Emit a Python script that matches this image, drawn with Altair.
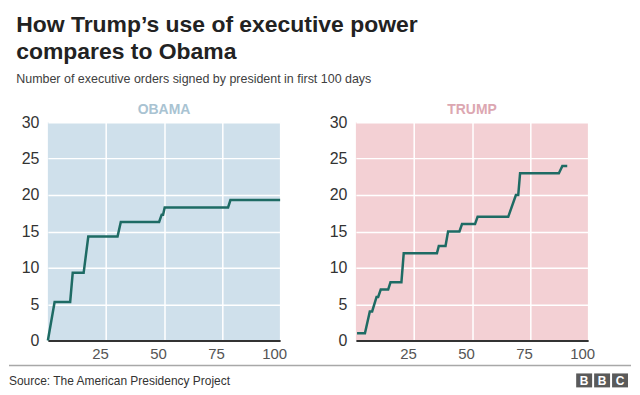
import altair as alt
import pandas as pd

# Data (day in first 100 days, cumulative orders)
obama_day = [0, 2.9, 9.6, 10.7, 15.4, 17.4, 30.0, 31.4, 47.9, 49.0, 49.6, 50.3, 77.6, 78.6, 100]
obama_count = [0, 5.3, 5.3, 9.3, 9.3, 14.3, 14.3, 16.3, 16.3, 17.3, 17.3, 18.3, 18.3, 19.3, 19.3]

trump_day = [0.5, 3.9, 6.0, 7.0, 8.9, 9.6, 10.7, 13.9, 14.9, 19.6, 20.6, 34.9, 35.7, 38.6,
             39.7, 44.6, 45.7, 51.3, 52.4, 65.6, 68.9, 69.9, 70.7, 87.4, 88.9, 91.0]
trump_count = [1, 1, 4, 4, 6, 6, 7, 7, 8, 8, 12, 12, 13, 13, 15, 15, 16, 16, 17, 17,
               20, 20, 23, 23, 24, 24]

x_ticks = [25, 50, 75, 100]
y_ticks = [0, 5, 10, 15, 20, 25, 30]

title_lines = ["How Trump\u2019s use of executive power", "compares to Obama"]
subtitle = "Number of executive orders signed by president in first 100 days"
source = "Source: The American Presidency Project"
logo_letters = ["B", "B", "C"]

FONT = "Liberation Sans"
LINE = "#1e6b64"
W, H = 233, 219

obama_df = pd.DataFrame({"day": obama_day, "count": obama_count, "i": range(len(obama_day))})
trump_df = pd.DataFrame({"day": trump_day, "count": trump_count, "i": range(len(trump_day))})

xscale = alt.Scale(domain=[0, 100], nice=False)
yscale = alt.Scale(domain=[0, 30], nice=False)


def panel(df, name, bg, title_color, footer=False):
    base = alt.Chart(df)
    line = base.mark_line(color=LINE, strokeWidth=2.5, strokeJoin="miter", clip=False).encode(
        x=alt.X("day:Q", scale=xscale,
                axis=alt.Axis(values=x_ticks, title=None, grid=True, gridColor="white",
                              gridWidth=1.5, domain=True, domainColor="#333333", domainWidth=2,
                              ticks=False, labelFont=FONT, labelFontSize=15,
                              labelColor="#555555", labelPadding=6, labelOffset=-6,
                              labelFlush=False)),
        y=alt.Y("count:Q", scale=yscale,
                axis=alt.Axis(values=y_ticks, title=None, grid=True, gridColor="white",
                              gridWidth=1.5, domain=False, ticks=False, labelFont=FONT,
                              labelFontSize=16, labelColor="#333333", labelPadding=9,
                              labelFlush=False)),
        order=alt.Order("i:Q"),
    )
    layers = [line]
    if footer:
        one = pd.DataFrame({"t": [source]})
        rule = alt.Chart(one).mark_rule(color="#a8a8a8", strokeWidth=1.5).encode(
            x=alt.value(-39), x2=alt.value(585), y=alt.value(244))
        src = alt.Chart(one).mark_text(font=FONT, fontSize=12, color="#333333",
                                       align="left", baseline="alphabetic").encode(
            x=alt.value(-39), y=alt.value(264), text="t:N")
        layers += [rule, src]
        for k, letter in enumerate(logo_letters):
            d = pd.DataFrame({"t": [letter]})
            x0 = 530 + k * 18
            sq = alt.Chart(d).mark_rect(color="#5a5a5a").encode(
                x=alt.value(x0), x2=alt.value(x0 + 16), y=alt.value(252), y2=alt.value(266))
            tx = alt.Chart(d).mark_text(font=FONT, fontSize=12, fontWeight="bold",
                                        color="white", align="center",
                                        baseline="middle").encode(
                x=alt.value(x0 + 8), y=alt.value(259.5), text="t:N")
            layers += [sq, tx]
    return alt.layer(*layers).properties(
        width=W, height=H,
        view=alt.ViewBackground(fill=bg, stroke=None),
        title=alt.TitleParams(name, color=title_color, font=FONT, fontSize=14,
                              fontWeight="bold", anchor="middle", offset=-3),
    )


obama = panel(obama_df, "OBAMA", "#cfe0eb", "#a9c3d2", footer=True)
trump = panel(trump_df, "TRUMP", "#f3d0d4", "#dca7b1")

chart = alt.hconcat(obama, trump, spacing=76, bounds="flush").properties(
    padding={"left": 0, "top": 5, "right": 0, "bottom": 0},
    title=alt.TitleParams(
        title_lines, subtitle=subtitle, anchor="start", frame="bounds", dx=8,
        font=FONT, fontSize=23, fontWeight="bold", color="#222222", lineHeight=27,
        subtitleFont=FONT, subtitleFontSize=12.5, subtitleColor="#404040",
        subtitlePadding=9, offset=18,
    ),
).configure_view(stroke=None)

chart.save("out.html", embed_options={"renderer": "svg", "actions": False})
